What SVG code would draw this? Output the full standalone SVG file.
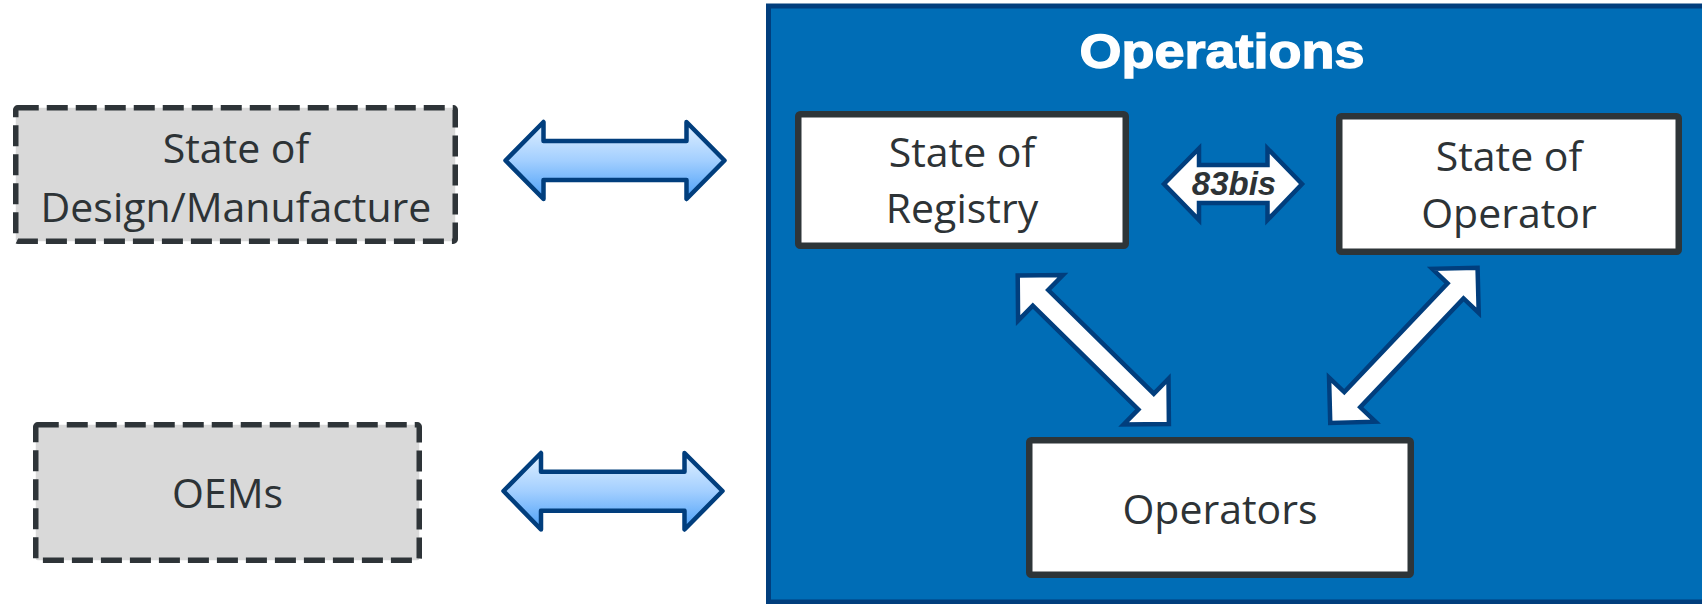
<svg xmlns="http://www.w3.org/2000/svg" width="1702" height="604" viewBox="0 0 1702 604">
  <defs>
    <linearGradient id="blueGrad" x1="0" y1="0" x2="0" y2="1">
      <stop offset="0" stop-color="#e2f1ff"/>
      <stop offset="0.5" stop-color="#a3cfff"/>
      <stop offset="1" stop-color="#4a9ff7"/>
    </linearGradient>
    <style>
      .lbl { font-family: "Open Sans", "Noto Sans", sans-serif; font-size: 41px; fill: #2d3336; text-anchor: middle; }
      .dashed { fill: #d9d9d9; stroke: #2e3438; stroke-width: 5.5; stroke-dasharray: 21 8; }
      .white { fill: #ffffff; stroke: #2e3538; stroke-width: 6.5; }
      .harrow { fill: url(#blueGrad); stroke: #013e7d; stroke-width: 4.5; stroke-linejoin: round; }
      .warrow { fill: #ffffff; stroke: #013e7d; stroke-width: 4.5; stroke-linejoin: miter; }
    </style>
  </defs>
  <rect x="0" y="0" width="1702" height="604" fill="#ffffff"/>

  <g id="operations">
    <rect x="768.5" y="6" width="1129" height="596" fill="#006db6" stroke="#013e7d" stroke-width="5"/>
    <text x="1222" y="68" font-family="'Liberation Sans', Arial, sans-serif" font-weight="bold" font-size="49" fill="#ffffff" stroke="#ffffff" stroke-width="1.4" text-anchor="middle" textLength="285" lengthAdjust="spacingAndGlyphs">Operations</text>
  </g>

  <g id="design-manufacture">
    <rect class="dashed" x="15.75" y="107.75" width="439.5" height="133.5" rx="2"/>
    <text class="lbl" x="236" y="163">State of</text>
    <text class="lbl" x="236" y="222">Design/Manufacture</text>
  </g>

  <g id="oems">
    <rect class="dashed" x="35.75" y="424.75" width="383.5" height="135.5" rx="2"/>
    <text class="lbl" x="227.5" y="508">OEMs</text>
  </g>

  <g id="state-of-registry">
    <rect class="white" x="798.25" y="114.25" width="327.5" height="131.5" rx="2"/>
    <text class="lbl" x="962" y="167">State of</text>
    <text class="lbl" x="962" y="223">Registry</text>
  </g>

  <g id="state-of-operator">
    <rect class="white" x="1339.25" y="116.25" width="339.5" height="135.5" rx="2"/>
    <text class="lbl" x="1509" y="171">State of</text>
    <text class="lbl" x="1509" y="228">Operator</text>
  </g>

  <g id="operators">
    <rect class="white" x="1029.25" y="440.25" width="381.5" height="134.5" rx="2"/>
    <text class="lbl" x="1220" y="524">Operators</text>
  </g>

  <g id="connectors">
    <path class="harrow" d="M 505.5 160.5 L 543.5 122 L 543.5 141 L 686.5 141 L 686.5 122 L 724.5 160.5 L 686.5 199 L 686.5 180 L 543.5 180 L 543.5 199 Z"/>
    <path class="harrow" d="M 503.5 491 L 541 453 L 541 471.7 L 684.5 471.7 L 684.5 453 L 722.5 491 L 684.5 529.5 L 684.5 510.8 L 541 510.8 L 541 529.5 Z"/>
    <g id="arrow-83bis">
      <path class="warrow" d="M 1164 184 L 1199 148.5 L 1199 165 L 1267.5 165 L 1267.5 148.5 L 1302 184 L 1267.5 220 L 1267.5 203 L 1199 203 L 1199 220 Z"/>
      <text x="1234" y="195" font-family="'Liberation Sans', Arial, sans-serif" font-weight="bold" font-style="italic" font-size="33" fill="#2d3336" text-anchor="middle">83bis</text>
    </g>
    <path class="warrow" transform="translate(1093.3 349.7) rotate(44.5)" d="M -106 0 L -74 -32 L -74 -11 L 74 -11 L 74 -32 L 106 0 L 74 32 L 74 11 L -74 11 L -74 32 Z"/>
    <path class="warrow" transform="translate(1403.9 345.3) rotate(-46.5)" d="M -107 0 L -75 -32 L -75 -11 L 75 -11 L 75 -32 L 107 0 L 75 32 L 75 11 L -75 11 L -75 32 Z"/>
  </g>
</svg>
